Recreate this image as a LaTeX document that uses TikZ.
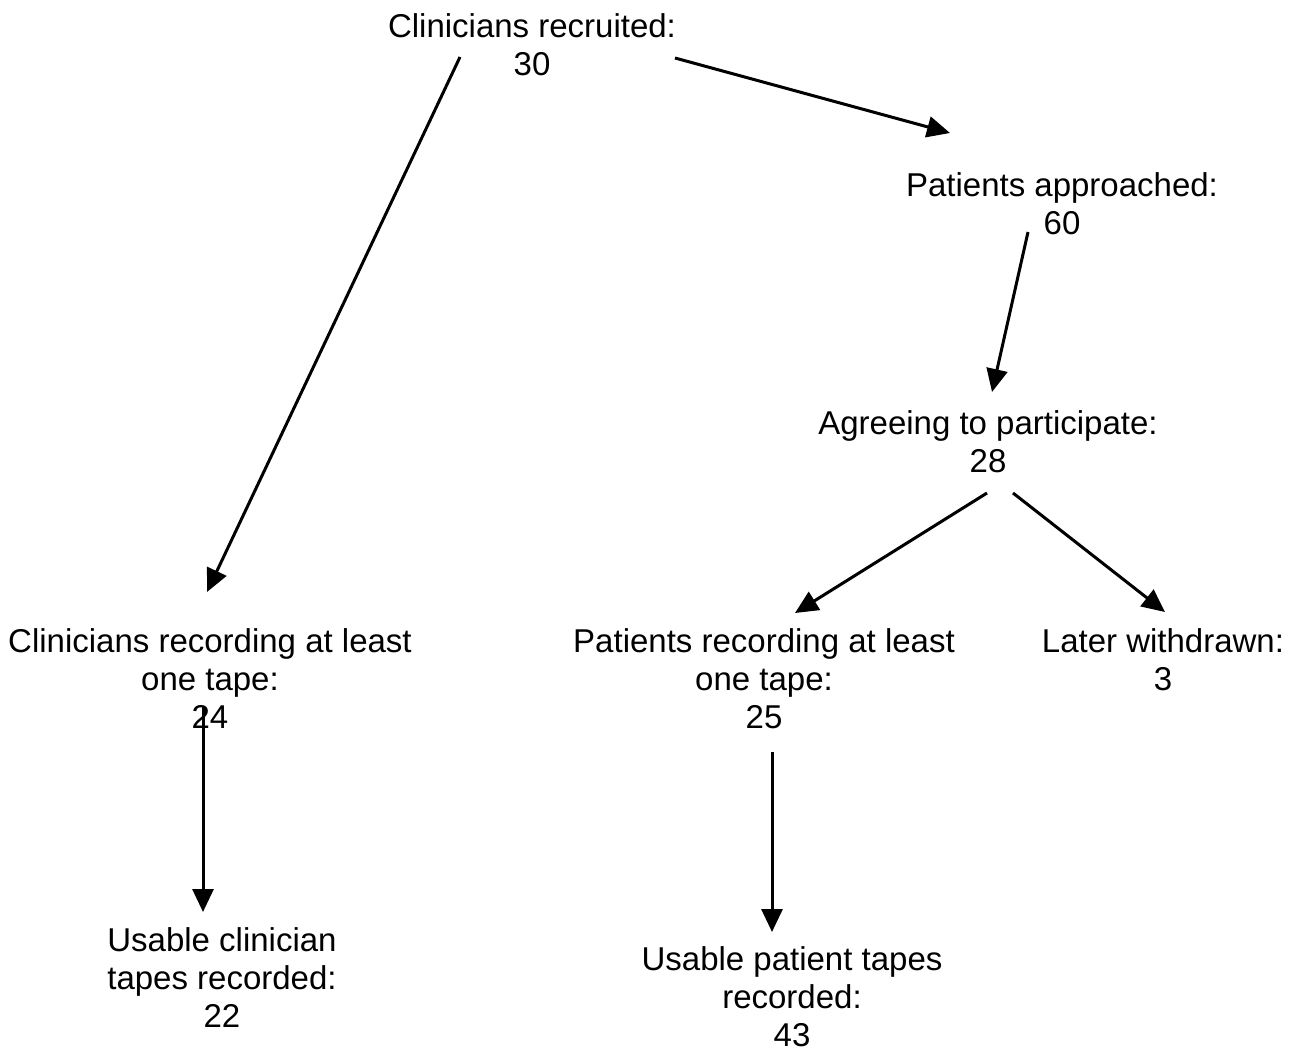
\documentclass[tikz,border=0pt]{standalone}
\usepackage{fontspec}
\setmainfont{Liberation Sans}
\usetikzlibrary{arrows.meta}
\begin{document}
\begin{tikzpicture}[x=1pt,y=-1pt,line width=3pt,
    >={Triangle[length=23pt,width=21pt]},
    font=\fontsize{33}{38}\selectfont]
  \tikzset{lbl/.style={align=center,inner sep=0pt}}
  \useasboundingbox (0,0) rectangle (1297,1054);
  % boxes (text only)
  \node[lbl] (cr)   at (532,45)   {Clinicians recruited:\\30};
  \node[lbl] (pa)   at (1062,204) {Patients approached:\\60};
  \node[lbl] (ag)   at (988,442)  {Agreeing to participate:\\28};
  \node[lbl] (crec) at (210,679)  {Clinicians recording at least\\one tape:\\24};
  \node[lbl] (prec) at (764,679)  {Patients recording at least\\one tape:\\25};
  \node[lbl] (lw)   at (1163,660) {Later withdrawn:\\3};
  \node[lbl] (uc)   at (222,978)  {Usable clinician\\tapes recorded:\\22};
  \node[lbl] (up)   at (792,997)  {Usable patient tapes\\recorded:\\43};
  % arrow ends
  \foreach \n/\x/\y in {cr-l/460/57,crec-t/207/592,cr-r/675/58,pa-t/950/133,
                        pa-b/1028/232,ag-t/992/392,ag-l/987/493,prec-t/795/613,
                        ag-r/1013/493,lw-t/1165/612,crec-b/203/707,uc-t/203/912,
                        prec-b/772/752,up-t/772/932}
    \coordinate (\n) at (\x,\y);
  \foreach \s/\t in {cr-l/crec-t,cr-r/pa-t,pa-b/ag-t,ag-l/prec-t,ag-r/lw-t,
                     crec-b/uc-t,prec-b/up-t}
    \draw[->] (\s)--(\t);
\end{tikzpicture}
\end{document}
